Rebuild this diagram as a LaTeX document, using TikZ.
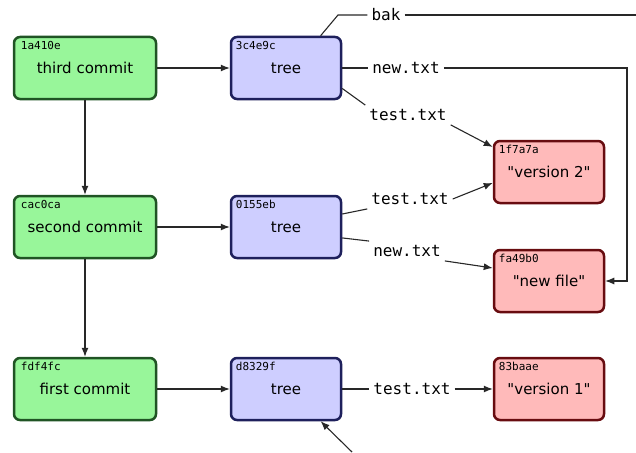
\documentclass[tikz,border=0pt]{standalone}
\usepackage{fontspec}
\setmainfont{DejaVu Sans}[Ligatures=TeXOff]
\setmonofont{DejaVu Sans Mono}
\usetikzlibrary{calc,arrows.meta,positioning}
\definecolor{commitfill}{RGB}{152,246,154}
\definecolor{commitdraw}{RGB}{32,84,36}
\definecolor{treefill}{RGB}{206,206,255}
\definecolor{treedraw}{RGB}{30,32,92}
\definecolor{blobfill}{RGB}{255,186,186}
\definecolor{blobdraw}{RGB}{104,12,16}
\definecolor{linkgray}{RGB}{40,40,40}
\tikzset{
  obj/.style={rounded corners=6pt, line width=2.5pt, minimum height=62pt, font=\fontsize{15}{18}\selectfont},
  commitbox/.style={obj, draw=commitdraw, fill=commitfill, minimum width=142pt},
  treebox/.style={obj, draw=treedraw, fill=treefill, minimum width=110pt},
  blobbox/.style={obj, draw=blobdraw, fill=blobfill, minimum width=110pt},
  hash/.style={anchor=north west, inner sep=0pt, font=\ttfamily\fontsize{11}{13}\selectfont},
  fname/.style={inner sep=4pt, font=\ttfamily\fontsize{16}{18}\selectfont},
  link/.style={draw=linkgray, line width=1.1pt},
  ptr/.style={link, -{Latex[length=9pt,width=7pt]}}
}
\begin{document}
\begin{tikzpicture}[x=1pt,y=-1pt]
\useasboundingbox (0,0) rectangle (636,452);
\node[commitbox] (c3) at (85,68) {third commit};
\node[commitbox] (c2) at (85,227) {second commit};
\node[commitbox] (c1) at (85,389) {first commit};
\node[treebox] (t3) at (286,68) {tree};
\node[treebox] (t2) at (286,227) {tree};
\node[treebox] (t1) at (286,389) {tree};
\node[blobbox] (b3) at (549,172) {"version 2"};
\node[blobbox] (b2) at (549,281) {"new file"};
\node[blobbox] (b1) at (549,389) {"version 1"};
\node[hash] (h3) at ($(c3.north west)+(8,5)$) {1a410e};
\node[hash] (h2) at ($(c2.north west)+(8,5)$) {cac0ca};
\node[hash] (h1) at ($(c1.north west)+(8,5)$) {fdf4fc};
\node[hash] (ht3) at ($(t3.north west)+(6,5)$) {3c4e9c};
\node[hash] (ht2) at ($(t2.north west)+(6,5)$) {0155eb};
\node[hash] (ht1) at ($(t1.north west)+(6,5)$) {d8329f};
\node[hash] (hb3) at ($(b3.north west)+(6,5)$) {1f7a7a};
\node[hash] (hb2) at ($(b2.north west)+(6,5)$) {fa49b0};
\node[hash] (hb1) at ($(b1.north west)+(6,5)$) {83baae};
\node[fname] (f3bak) at (386,15) {bak};
\node[fname] (f3new) at (406,68) {new.txt};
\node[fname] (f3test) at (408,115) {test.txt};
\node[fname] (f2test) at (410,199) {test.txt};
\node[fname] (f2new) at (407,251) {new.txt};
\node[fname] (f1test) at (412,389) {test.txt};
\coordinate (bakbend) at (338,15);
\coordinate (bakend) at (636,15);
\coordinate (rail) at (627,0);
\coordinate (tail) at (352,452);
\draw[ptr] (c3) -- (c2);
\draw[ptr] (c2) -- (c1);
\draw[ptr] (c3) -- (t3);
\draw[ptr] (c2) -- (t2);
\draw[ptr] (c1) -- (t1);
\draw[link] (t3.43) -- (bakbend) -- (f3bak.west);
\draw[link] (f3bak.east) -- (bakend);
\draw[link] (t3.east) -- (f3new.west);
\draw[ptr] (f3new.east) -- (f3new.east -| rail) |- (b2.east);
\draw[link] (t3.-20) -- (f3test.north west);
\draw[ptr] (f3test.south east) -- (b3.156);
\draw[link] (t2.13) -- (f2test.south west);
\draw[ptr] (f2test.east) -- (b3.191);
\draw[link] (t2.-11) -- (f2new.north west);
\draw[ptr] (f2new.south east) -- (b2.167);
\draw[link] (t1) -- (f1test);
\draw[ptr] (f1test) -- (b1);
\draw[ptr] (tail) -- (t1.-43);
\end{tikzpicture}
\end{document}
